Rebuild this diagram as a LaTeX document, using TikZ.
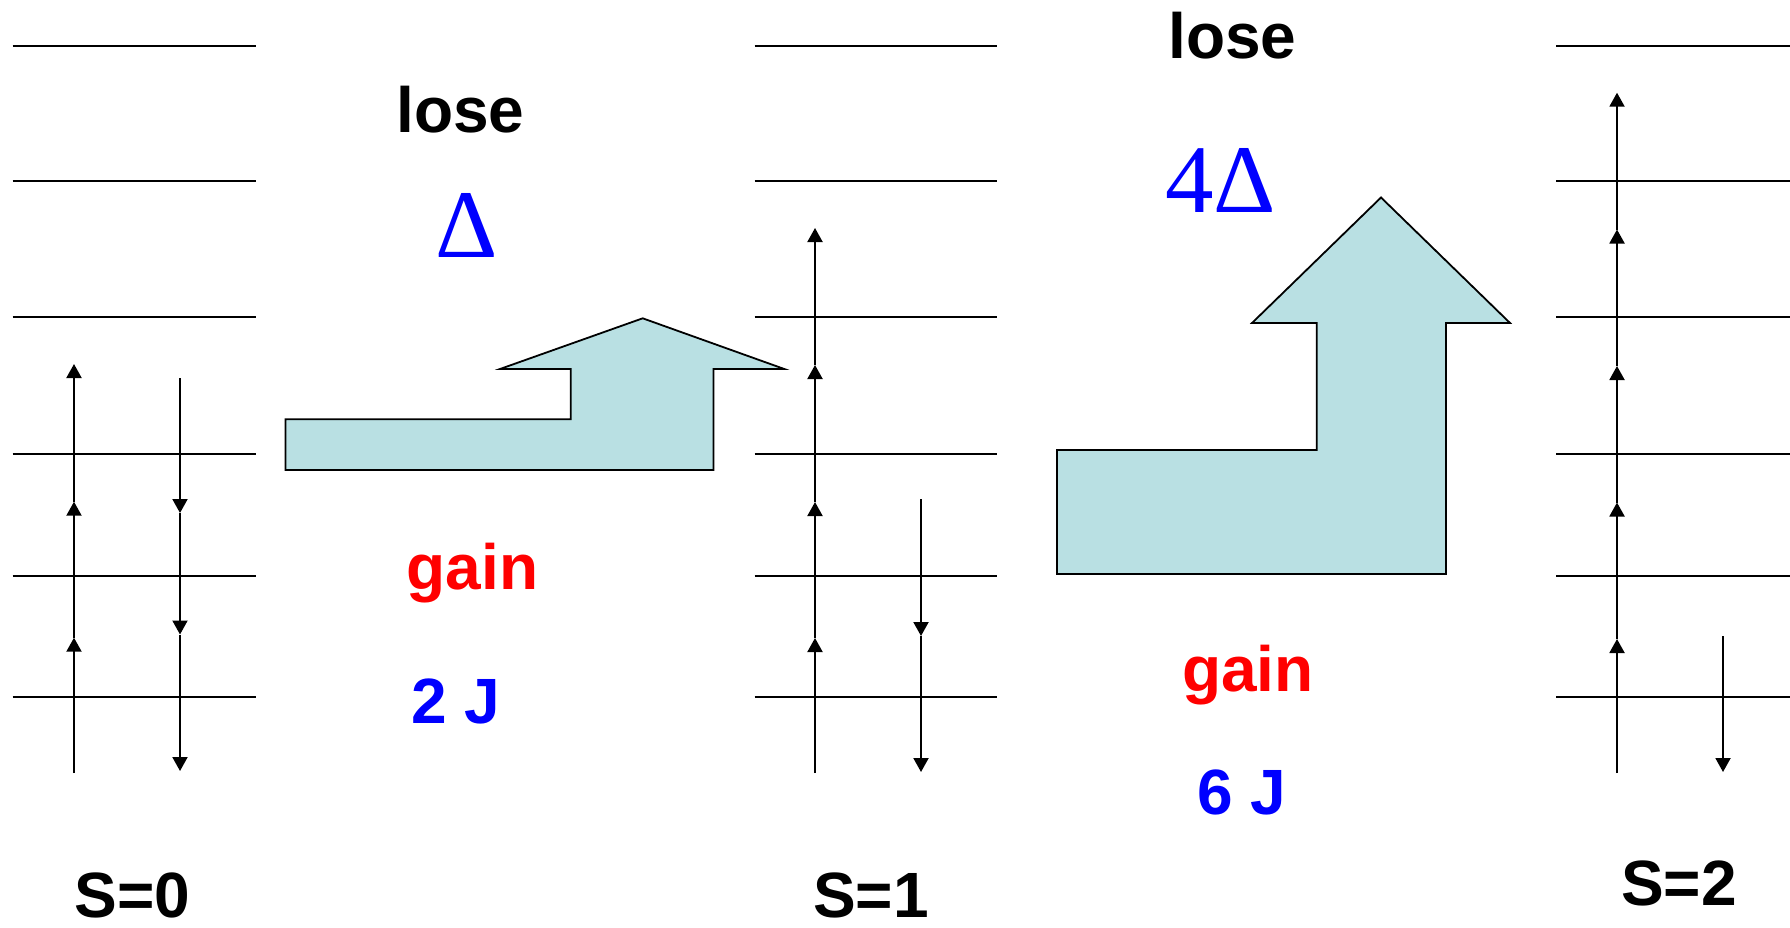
\documentclass[tikz,border=0pt]{standalone}
\usepackage{fontspec}
\setmainfont{Liberation Sans}
\newfontfamily\seriffont{Liberation Serif}
\usetikzlibrary{arrows.meta}
\definecolor{shapefill}{RGB}{185,224,227}
\begin{document}
\begin{tikzpicture}[x=1pt,y=-1pt,
 level/.style={line width=2pt},
 spin/.style={line width=2pt,-{Triangle[width=15pt,length=14pt]}},
 bigarrow/.style={draw=black,line width=1.8pt,fill=shapefill,line join=miter},
 lbl/.style={font=\fontsize{64}{70}\selectfont\bfseries,anchor=base,inner sep=0pt},
 greek/.style={font=\fontsize{97}{110}\seriffont,text=blue,anchor=base,inner sep=0pt}]
\useasboundingbox (0,0) rectangle (1790,928);
% energy levels
\foreach \yy in {45.7,181.5,317.4,454.4,575.7,696.7}{
  \draw[level] (12.6,\yy) -- (255.7,\yy);
  \draw[level] (754.6,\yy) -- (996.6,\yy);
  \draw[level] (1556,\yy) -- (1790,\yy);
}
% S=0 spins
\draw[spin] (74,773) -- (74,637.7);
\draw[spin] (74,637.7) -- (74,501.7);
\draw[spin] (74,501.7) -- (74,364);
\draw[spin] (180,378) -- (180,513);
\draw[spin] (180,513) -- (180,634.5);
\draw[spin] (180,634.5) -- (180,771);
% S=1 spins
\draw[spin] (815,773) -- (815,638);
\draw[spin] (815,638) -- (815,502);
\draw[spin] (815,502) -- (815,365);
\draw[spin] (815,365) -- (815,228);
\draw[spin] (921,499) -- (921,636);
\draw[spin] (921,636) -- (921,772);
% S=2 spins
\draw[spin] (1617,773) -- (1617,639);
\draw[spin] (1617,639) -- (1617,502.5);
\draw[spin] (1617,502.5) -- (1617,366);
\draw[spin] (1617,366) -- (1617,229.5);
\draw[spin] (1617,229.5) -- (1617,92.7);
\draw[spin] (1723,636) -- (1723,772);
% block arrows
\draw[bigarrow] (285.4,470) -- (285.4,419.3) -- (570.8,419.3) -- (570.8,369) -- (500,369)
  -- (642.7,318.3) -- (784.3,369) -- (713.5,369) -- (713.5,470) -- cycle;
\draw[bigarrow] (1057,574) -- (1057,450) -- (1316.7,450) -- (1316.7,323) -- (1252,323)
  -- (1381,197.5) -- (1510,323) -- (1446,323) -- (1446,574) -- cycle;
% labels
\node[lbl] (lose1) at (460.5,133) {lose};
\node[greek] (d1) at (467,257) {Δ};
\node[lbl,text=red] (gain1) at (472.6,589) {gain};
\node[lbl,text=blue] (j1) at (455.5,723) {2 J};
\node[lbl] (lose2) at (1232.5,59) {lose};
\node[greek] (d2) at (1220.5,212) {4Δ};
\node[lbl,text=red] (gain2) at (1248,691) {gain};
\node[lbl,text=blue] (j2) at (1242,814) {6 J};
\node[lbl] (s0) at (132.5,917) {S=0};
\node[lbl] (s1) at (871,917) {S=1};
\node[lbl] (s2) at (1679,905) {S=2};
\end{tikzpicture}
\end{document}
